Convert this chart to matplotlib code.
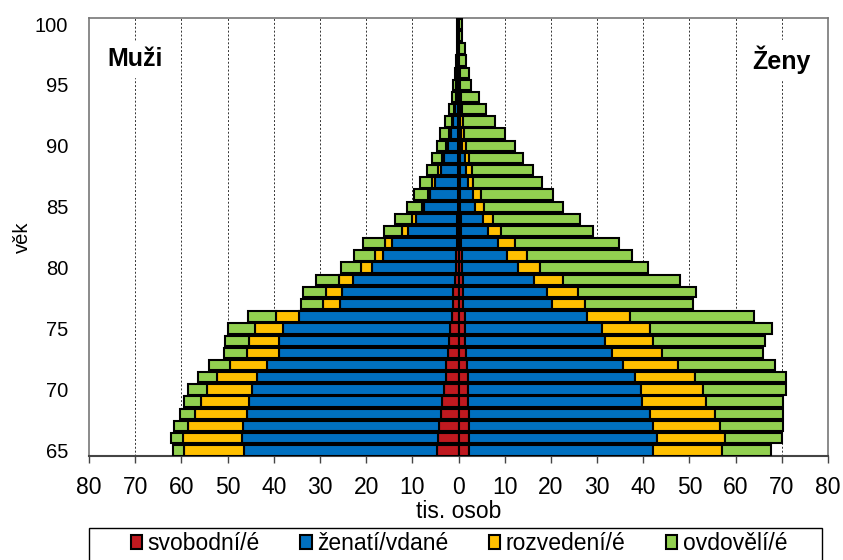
import numpy as np
import matplotlib.pyplot as plt
from matplotlib.patches import Patch, Rectangle

# vek 65 az 100
vek = list(range(65, 101))

# muzi (tis. osob)
muzi_svobodni = [4.7, 4.4, 4.2, 3.8, 3.5, 3.1, 2.8, 2.6, 2.2, 2.0, 1.8, 1.5, 1.1, 1.1, 0.8, 0.6, 0.5, 0.4,
                 0.3, 0.3, 0.2, 0.2, 0.2, 0.2, 0.2, 0.1, 0.1, 0.1, 0.1, 0.05, 0.05, 0.03, 0.02, 0.02, 0.01, 0.01]
muzi_zenati = [41.8, 42.5, 42.4, 42.1, 41.8, 41.7, 40.8, 38.8, 36.7, 36.8, 36.1, 33.0, 24.6, 24.2, 22.1, 18.2, 15.8, 13.9,
               10.6, 8.9, 7.2, 6.0, 4.9, 3.6, 2.9, 2.1, 1.6, 1.1, 0.7, 0.5, 0.35, 0.25, 0.15, 0.1, 0.06, 0.06]
muzi_rozvedeni = [13.0, 12.7, 11.9, 11.2, 10.4, 9.6, 8.6, 8.0, 7.0, 6.5, 6.1, 5.0, 3.6, 3.4, 2.9, 2.3, 1.8, 1.6,
                  1.4, 0.9, 0.6, 0.5, 0.6, 0.6, 0.5, 0.4, 0.3, 0.2, 0.1, 0.08, 0.05, 0.04, 0.03, 0.02, 0.01, 0.01]
muzi_ovdoveli = [2.3, 2.7, 3.0, 3.3, 3.7, 4.1, 4.3, 4.6, 4.9, 5.2, 6.0, 6.1, 4.8, 5.0, 5.1, 4.3, 4.5, 4.7,
                 3.8, 3.6, 3.2, 2.9, 2.6, 2.5, 2.2, 2.1, 1.9, 1.5, 1.1, 0.87, 0.65, 0.48, 0.3, 0.26, 0.17, 0.17]

# zeny (tis. osob)
zeny_svobodne = [2.3, 2.3, 2.2, 2.2, 2.0, 2.0, 2.0, 1.8, 1.6, 1.5, 1.5, 1.4, 1.0, 1.0, 0.9, 0.8, 0.7, 0.6,
                 0.5, 0.5, 0.4, 0.4, 0.4, 0.3, 0.3, 0.3, 0.25, 0.2, 0.15, 0.1, 0.08, 0.06, 0.05, 0.04, 0.03, 0.03]
zeny_vdane = [39.9, 40.6, 40.0, 39.3, 37.8, 37.5, 36.3, 33.9, 31.7, 30.2, 29.6, 26.5, 19.3, 18.1, 15.5, 12.0, 9.7, 8.0,
              5.8, 4.7, 3.2, 2.7, 1.6, 1.3, 1.0, 0.5, 0.3, 0.2, 0.15, 0.1, 0.06, 0.05, 0.03, 0.02, 0.01, 0.01]
zeny_rozvedene = [14.8, 14.8, 14.4, 14.0, 13.8, 13.4, 13.0, 11.9, 10.7, 10.5, 10.4, 9.2, 7.1, 6.7, 6.2, 4.8, 4.4, 3.6,
                  2.9, 2.3, 2.0, 1.8, 1.2, 1.4, 1.0, 0.9, 0.7, 0.5, 0.35, 0.25, 0.16, 0.12, 0.08, 0.06, 0.04, 0.04]
zeny_ovdovele = [10.6, 12.3, 13.6, 14.8, 16.7, 18.0, 19.7, 20.9, 22.0, 24.1, 26.4, 26.9, 23.3, 25.6, 25.3, 23.4, 22.8, 22.5,
                 20.0, 18.7, 17.1, 15.5, 14.9, 13.1, 11.6, 10.5, 8.85, 7.0, 5.35, 3.95, 2.5, 2.07, 1.44, 1.18, 0.72, 0.62]

nazvy = ["svobodní/é", "ženatí/vdané", "rozvedení/é", "ovdovělí/é"]
barvy = ["#C0191F", "#0070C0", "#FFC000", "#92D050"]

plt.rcParams['font.family'] = ['Liberation Sans', 'DejaVu Sans']

fig = plt.figure(figsize=(8.43, 5.6), dpi=100)
ax = fig.add_axes([0.1056, 0.186, 0.8766, 0.782])

muzi = [muzi_svobodni, muzi_zenati, muzi_rozvedeni, muzi_ovdoveli]
zeny = [zeny_svobodne, zeny_vdane, zeny_rozvedene, zeny_ovdovele]

# muzi doleva (zaporne), zeny doprava
zaklad = np.zeros(len(vek))
for hodnoty, barva in zip(muzi, barvy):
    h = np.array(hodnoty)
    ax.barh(vek, -h, left=-zaklad, height=0.85, color=barva, edgecolor='black', linewidth=1.5, zorder=3)
    zaklad = zaklad + h

zaklad = np.zeros(len(vek))
for hodnoty, barva in zip(zeny, barvy):
    h = np.array(hodnoty)
    ax.barh(vek, h, left=zaklad, height=0.85, color=barva, edgecolor='black', linewidth=1.5, zorder=3)
    zaklad = zaklad + h

ax.set_xlim(-80, 80)
ax.set_ylim(64.55, 100.5)
ax.set_xticks(range(-80, 81, 10))
ax.set_xticklabels([str(abs(t)) for t in range(-80, 81, 10)])
ax.set_yticks(range(65, 101, 5))
ax.tick_params(axis='x', labelsize=16.5, length=5, width=1, color='#444444', pad=9.5)
ax.tick_params(axis='y', labelsize=14.5, length=0, pad=15)

# svisle carkovane mrizky
for x in range(-70, 71, 10):
    ax.axvline(x, color='#333333', linestyle=(0, (2, 2)), linewidth=0.7, zorder=1)

for s in ax.spines.values():
    s.set_color('#777777')
    s.set_linewidth(1.2)
ax.spines['bottom'].set_color('#444444')
ax.spines['bottom'].set_linewidth(1.5)

ax.set_ylabel("věk", fontsize=14.5, labelpad=2)
ax.set_xlabel("tis. osob", fontsize=16.5, labelpad=1)

ax.text(-70, 97.1, "Muži", fontsize=18, fontweight='bold', ha='center', va='center',
        backgroundcolor='white', zorder=4)
ax.text(70, 97.1, "Ženy", fontsize=18, fontweight='bold', ha='center', va='center',
        backgroundcolor='white', zorder=4)

# ramecek legendy (spodni okraj je mimo obrazek)
fig.patches.append(Rectangle((89 / 843, -0.02), (822 - 89) / 843, 0.02 + (560 - 528) / 560,
                             transform=fig.transFigure, facecolor='none', edgecolor='black',
                             linewidth=1.0))

# legenda pod grafem
handles = [Patch(facecolor=b, edgecolor='black', linewidth=1.5) for b in barvy]
leg = fig.legend(handles, nazvy, loc='upper center', bbox_to_anchor=(459 / 843, 1 - 532 / 560),
                 ncol=4, fontsize=16.5, frameon=False, borderaxespad=0,
                 handlelength=0.5, handleheight=0.6, handletextpad=0.25,
                 borderpad=0.0, columnspacing=1.75)

plt.savefig("out.png", dpi=100)
